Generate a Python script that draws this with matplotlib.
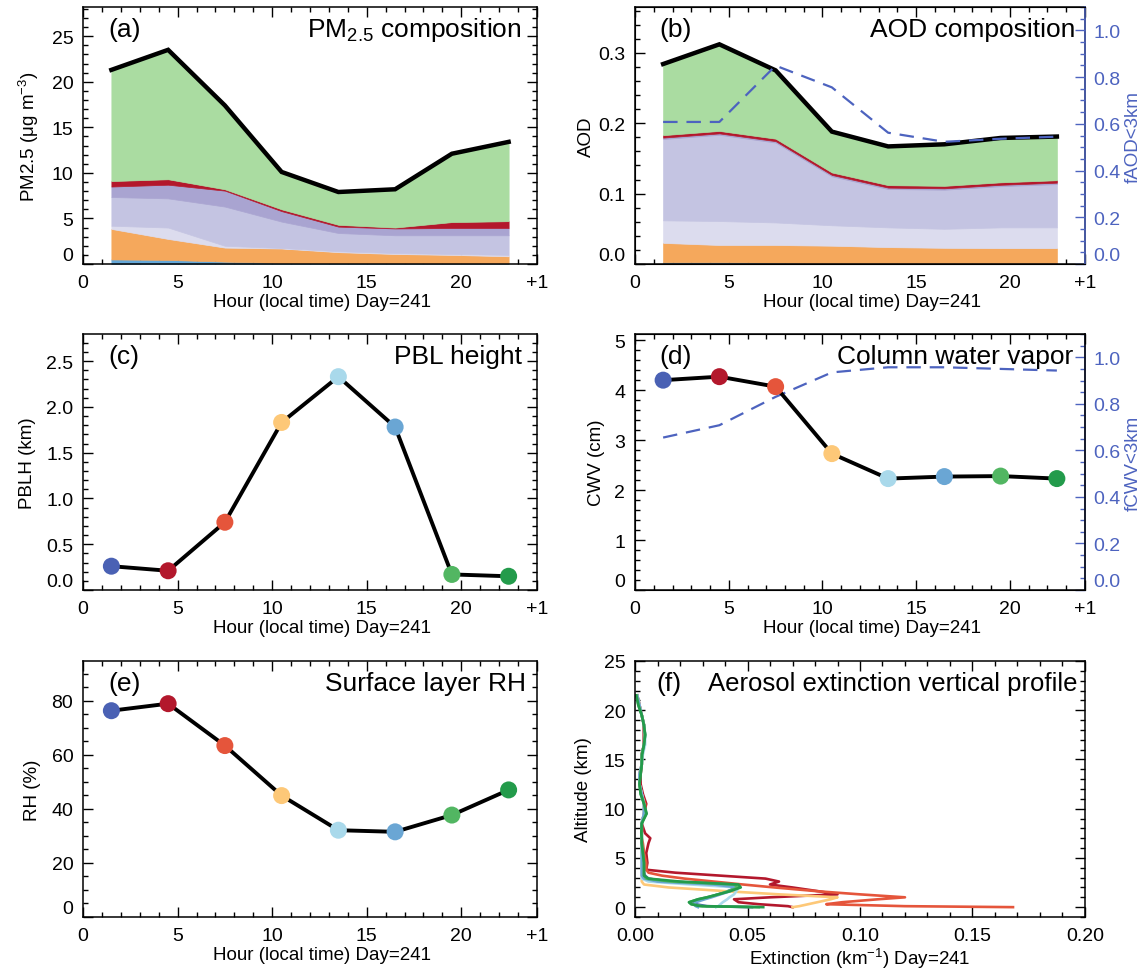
import numpy as np
import matplotlib
matplotlib.use("Agg")
import matplotlib.pyplot as plt
from matplotlib.ticker import MultipleLocator

plt.rcParams['font.family'] = ['Liberation Sans', 'DejaVu Sans']
plt.rcParams['mathtext.default'] = 'regular'

# ---------------------------------------------------------------- data
hours = [1.5, 4.5, 7.5, 10.5, 13.5, 16.5, 19.5, 22.5]
hour_colors = ['#4a61b4', '#b3182c', '#e5553b', '#fdc878',
               '#a9d9eb', '#6aa6d4', '#52b662', '#239b4b']

hour_ticks = [0, 5, 10, 15, 20, 24]
hour_ticklabels = ['0', '5', '10', '15', '20', '+1']

# (a) PM2.5 components (ug m-3), stacked bottom to top
pm_blue = [0.50, 0.45, 0.26, 0.12, 0.10, 0.08, 0.07, 0.07]
pm_orange = [3.35, 2.30, 1.54, 1.58, 1.20, 1.02, 0.93, 0.78]
pm_pale = [0.35, 1.25, 0.20, 0.05, 0.10, 0.10, 0.10, 0.15]
pm_lilac = [3.15, 3.20, 4.30, 2.90, 2.00, 1.95, 2.05, 2.15]
pm_purple = [1.15, 1.50, 1.75, 1.15, 0.70, 0.75, 0.80, 0.80]
pm_red = [0.60, 0.60, 0.15, 0.20, 0.20, 0.10, 0.65, 0.75]
pm_green = [12.2, 14.2, 9.2, 4.1, 3.6, 4.2, 7.5, 8.7]

# (b) AOD components, stacked bottom to top
aod_blue = [0.0025, 0.0025, 0.0020, 0.0015, 0.0015, 0.0015, 0.0015, 0.0015]
aod_orange = [0.0275, 0.0245, 0.0250, 0.0245, 0.0225, 0.0215, 0.0210, 0.0210]
aod_pale = [0.032, 0.034, 0.032, 0.029, 0.028, 0.027, 0.0295, 0.0295]
aod_lilac = [0.1155, 0.1225, 0.1135, 0.0695, 0.0545, 0.0555, 0.0585, 0.0615]
aod_purple = [0.002, 0.002, 0.002, 0.002, 0.002, 0.002, 0.002, 0.002]
aod_red = [0.0035, 0.0035, 0.0035, 0.0035, 0.0035, 0.0035, 0.0035, 0.0035]
aod_green = [0.101, 0.123, 0.097, 0.058, 0.055, 0.059, 0.063, 0.062]
fAOD_3km = [0.608, 0.608, 0.849, 0.756, 0.562, 0.523, 0.536, 0.545]

layer_colors = ['#64a7d8', '#f5a85c', '#dcdcee', '#c4c4e2',
                '#a9a4d1', '#b3182c', '#aadca1']

# (c) boundary layer height (km)
pblh_km = [0.26, 0.21, 0.74, 1.83, 2.33, 1.78, 0.17, 0.15]

# (d) column water vapor (cm) and fraction below 3 km
cwv_cm = [4.20, 4.27, 4.07, 2.73, 2.23, 2.27, 2.28, 2.23]
fCWV_3km = [0.655, 0.708, 0.830, 0.935, 0.957, 0.957, 0.950, 0.943]

# (e) surface layer relative humidity (%)
rh_pct = [76.3, 78.9, 63.4, 44.9, 32.1, 31.5, 37.7, 47.0]

# (f) aerosol extinction profiles (km-1), one per hour
z_km = [0.0, 0.1, 0.3, 0.5, 0.8, 1.0, 1.3, 1.6, 2.0, 2.3, 2.6, 2.9, 3.2, 3.5, 3.8,
        4.5, 5.5, 6.5, 7.0, 7.5, 8.5, 9.5, 10.5, 11.5, 12.5, 13.5, 14.5, 15.5,
        16.5, 17.5, 18.5, 19.5, 20.5, 21.5]
ext_0130 = [0.052, 0.032, 0.027, 0.026, 0.029, 0.033, 0.037, 0.041, 0.045, 0.044,
            0.015, 0.006, 0.0045, 0.004, 0.004,
            0.004, 0.004, 0.003, 0.003, 0.003, 0.003, 0.004, 0.004, 0.003, 0.002,
            0.002, 0.003, 0.003, 0.004, 0.004, 0.004, 0.003, 0.002, 0.001]
ext_0430 = [0.070, 0.068, 0.055, 0.046, 0.044, 0.060, 0.090, 0.082, 0.070, 0.060,
            0.064, 0.058, 0.038, 0.018, 0.005,
            0.0055, 0.005, 0.006, 0.0068, 0.0045, 0.003, 0.004, 0.005, 0.0035, 0.0025,
            0.0025, 0.003, 0.003, 0.004, 0.004, 0.004, 0.003, 0.002, 0.001]
ext_0730 = [0.168, 0.120, 0.085, 0.092, 0.108, 0.120, 0.100, 0.082, 0.062, 0.048,
            0.035, 0.022, 0.012, 0.006, 0.005,
            0.005, 0.004, 0.0035, 0.003, 0.003, 0.003, 0.0045, 0.0045, 0.003, 0.002,
            0.002, 0.003, 0.003, 0.004, 0.004, 0.004, 0.003, 0.002, 0.001]
ext_1030 = [0.070, 0.073, 0.077, 0.081, 0.087, 0.090, 0.064, 0.042, 0.015, 0.004,
            0.003, 0.003, 0.003, 0.003, 0.003,
            0.003, 0.003, 0.003, 0.003, 0.003, 0.003, 0.004, 0.004, 0.003, 0.002,
            0.002, 0.003, 0.003, 0.004, 0.0045, 0.004, 0.003, 0.002, 0.001]
ext_1330 = [0.036, 0.037, 0.038, 0.039, 0.041, 0.042, 0.044, 0.045, 0.046, 0.025,
            0.006, 0.003, 0.003, 0.003, 0.003,
            0.003, 0.003, 0.003, 0.003, 0.003, 0.003, 0.004, 0.004, 0.003, 0.002,
            0.002, 0.003, 0.0035, 0.0045, 0.0045, 0.004, 0.003, 0.002, 0.001]
ext_1630 = [0.028, 0.027, 0.026, 0.027, 0.031, 0.034, 0.038, 0.042, 0.046, 0.035,
            0.010, 0.004, 0.003, 0.003, 0.003,
            0.003, 0.003, 0.003, 0.003, 0.003, 0.003, 0.004, 0.004, 0.003, 0.002,
            0.002, 0.003, 0.003, 0.004, 0.0045, 0.004, 0.003, 0.002, 0.001]
ext_1930 = [0.055, 0.030, 0.025, 0.024, 0.028, 0.032, 0.037, 0.041, 0.046, 0.044,
            0.016, 0.005, 0.004, 0.004, 0.004,
            0.004, 0.0035, 0.003, 0.003, 0.003, 0.003, 0.005, 0.004, 0.0025, 0.002,
            0.0025, 0.003, 0.003, 0.004, 0.0045, 0.004, 0.003, 0.0015, 0.0007]
ext_2230 = [0.057, 0.029, 0.025, 0.024, 0.028, 0.032, 0.037, 0.042, 0.047, 0.046,
            0.020, 0.006, 0.004, 0.004, 0.004,
            0.004, 0.0035, 0.003, 0.003, 0.0028, 0.003, 0.0052, 0.004, 0.0025, 0.002,
            0.0025, 0.003, 0.0032, 0.004, 0.0045, 0.0039, 0.003, 0.0015, 0.0005]

right_blue = '#4d63bf'

# ---------------------------------------------------------------- layout
FIG_W, FIG_H = 1145, 970
fig = plt.figure(figsize=(FIG_W / 100, FIG_H / 100), dpi=100)


def add_panel(left, top, right, bottom):
    return fig.add_axes([left / FIG_W, 1 - bottom / FIG_H,
                         (right - left) / FIG_W, (bottom - top) / FIG_H])


def frame(ax, right=True):
    ax.tick_params(which='both', direction='in', top=True, right=right,
                   labelsize=14, pad=7, width=1.0)
    ax.tick_params(which='major', length=7)
    ax.tick_params(which='minor', length=3.5)
    for s in ax.spines.values():
        s.set_linewidth(1.1)


def bottom_label(ax, text, x=0.527):
    ax.set_xlabel(text, fontsize=13.5)
    ax.xaxis.set_label_coords(x, -0.112, transform=ax.transAxes)
    ax.xaxis.label.set_verticalalignment('top')


def hour_axis(ax):
    ax.set_xlim(0, 24)
    ax.set_xticks(hour_ticks)
    ax.set_xticklabels(hour_ticklabels)
    ax.xaxis.set_minor_locator(MultipleLocator(1))
    bottom_label(ax, 'Hour (local time) Day=241')


def left_label(ax, text, x):
    ax.set_ylabel(text, fontsize=13.5)
    ax.yaxis.set_label_coords(x, 0.5)


def titles(ax, tag, title, tag_x=0.055, title_x=0.972, size=19):
    ax.text(tag_x, 0.915, tag, transform=ax.transAxes, fontsize=19,
            ha='left', va='center')
    ax.text(title_x, 0.915, title, transform=ax.transAxes, fontsize=size,
            ha='right', va='center')


def lift_zero_label(axis, second=False):
    # bottom tick label sits just above the frame
    tick = axis.get_major_ticks()[0]
    (tick.label2 if second else tick.label1).set_verticalalignment('bottom')


def right_axis(ax, values, label):
    ax2 = ax.twinx()
    ax2.plot(hours, values, color=right_blue, lw=1.6, dashes=(6.5, 4), zorder=5)
    ax2.set_ylim(0, 1.1)
    ax2.set_yticks([0.0, 0.2, 0.4, 0.6, 0.8, 1.0])
    ax2.set_yticklabels(['0.0', '0.2', '0.4', '0.6', '0.8', '1.0'])
    ax2.yaxis.set_minor_locator(MultipleLocator(0.05))
    ax2.tick_params(which='both', direction='in', labelsize=14, pad=6, width=1.0,
                    colors=right_blue)
    ax2.tick_params(which='major', length=7)
    ax2.tick_params(which='minor', length=3.5)
    ax2.spines['right'].set_color(right_blue)
    ax2.spines['right'].set_linewidth(1.1)
    ax2.set_ylabel(label, fontsize=13.5, color=right_blue, labelpad=3)
    lift_zero_label(ax2.yaxis, second=True)
    return ax2


def stacked(ax, layers, lw_total):
    base = np.zeros(len(hours))
    for vals, col in zip(layers, layer_colors):
        top = base + np.asarray(vals)
        ax.fill_between(hours, base, top, facecolor=col, edgecolor=col,
                        linewidth=0.5, zorder=2)
        base = top
    ax.plot(hours, base, color='black', lw=lw_total, zorder=4,
            solid_joinstyle='miter')


def dotted_series(ax, vals):
    ax.plot(hours, vals, color='black', lw=2.8, zorder=3)
    ax.scatter(hours, vals, s=150, c=hour_colors, edgecolors='none', zorder=4)


# (a) PM2.5 composition
ax_a = add_panel(83, 8, 537, 265)
frame(ax_a)
stacked(ax_a, [pm_blue, pm_orange, pm_pale, pm_lilac, pm_purple, pm_red, pm_green], 3.2)
hour_axis(ax_a)
ax_a.set_ylim(0, 28.2)
ax_a.set_yticks([0, 5, 10, 15, 20, 25])
ax_a.yaxis.set_minor_locator(MultipleLocator(1))
left_label(ax_a, 'PM2.5 (μg m$^{-3}$)', -0.093)
titles(ax_a, '(a)', 'PM$_{2.5}$ composition', title_x=0.965)
lift_zero_label(ax_a.yaxis)

# (b) AOD composition with fraction below 3 km
ax_b = add_panel(635, 8, 1085, 265)
frame(ax_b, right=False)
stacked(ax_b, [aod_blue, aod_orange, aod_pale, aod_lilac, aod_purple, aod_red, aod_green], 3.2)
hour_axis(ax_b)
ax_b.set_ylim(0, 0.365)
ax_b.set_yticks([0.0, 0.1, 0.2, 0.3])
ax_b.set_yticklabels(['0.0', '0.1', '0.2', '0.3'])
ax_b.yaxis.set_minor_locator(MultipleLocator(0.02))
left_label(ax_b, 'AOD', -0.088)
titles(ax_b, '(b)', 'AOD composition', title_x=0.978)
lift_zero_label(ax_b.yaxis)
right_axis(ax_b, fAOD_3km, 'fAOD<3km')

# (c) PBL height
ax_c = add_panel(83, 335, 537, 591)
frame(ax_c)
dotted_series(ax_c, pblh_km)
hour_axis(ax_c)
ax_c.set_ylim(0, 1.2 * max(pblh_km))
ax_c.set_yticks([0.0, 0.5, 1.0, 1.5, 2.0, 2.5])
ax_c.set_yticklabels(['0.0', '0.5', '1.0', '1.5', '2.0', '2.5'])
ax_c.yaxis.set_minor_locator(MultipleLocator(0.1))
left_label(ax_c, 'PBLH (km)', -0.104)
titles(ax_c, '(c)', 'PBL height', title_x=0.967)
lift_zero_label(ax_c.yaxis)

# (d) column water vapor with fraction below 3 km
ax_d = add_panel(635, 335, 1085, 591)
frame(ax_d, right=False)
dotted_series(ax_d, cwv_cm)
hour_axis(ax_d)
ax_d.set_ylim(0, 1.2 * max(cwv_cm))
ax_d.set_yticks([0, 1, 2, 3, 4, 5])
ax_d.yaxis.set_minor_locator(MultipleLocator(0.2))
left_label(ax_d, 'CWV (cm)', -0.066)
titles(ax_d, '(d)', 'Column water vapor', title_x=0.973)
lift_zero_label(ax_d.yaxis)
ax_d2 = right_axis(ax_d, fCWV_3km, 'fCWV<3km')
ax_d.set_zorder(ax_d2.get_zorder() + 1)
ax_d.patch.set_visible(False)

# (e) surface layer RH
ax_e = add_panel(83, 662, 537, 918)
frame(ax_e)
dotted_series(ax_e, rh_pct)
hour_axis(ax_e)
ax_e.set_ylim(0, 1.2 * max(rh_pct))
ax_e.set_yticks([0, 20, 40, 60, 80])
ax_e.yaxis.set_minor_locator(MultipleLocator(5))
left_label(ax_e, 'RH (%)', -0.093)
titles(ax_e, '(e)', 'Surface layer RH', title_x=0.975)
lift_zero_label(ax_e.yaxis)

# (f) aerosol extinction profiles
ax_f = add_panel(635, 662, 1085, 918)
frame(ax_f)
profiles = [ext_0130, ext_0430, ext_0730, ext_1030,
            ext_1330, ext_1630, ext_1930, ext_2230]
for prof, col in zip(profiles, hour_colors):
    ax_f.plot(prof, z_km, color=col, lw=1.9)
ax_f.set_xlim(0, 0.2)
ax_f.set_xticks([0.0, 0.05, 0.10, 0.15, 0.20])
ax_f.set_xticklabels(['0.00', '0.05', '0.10', '0.15', '0.20'])
ax_f.xaxis.set_minor_locator(MultipleLocator(0.01))
ax_f.set_ylim(-1, 25)
ax_f.set_yticks([0, 5, 10, 15, 20, 25])
ax_f.yaxis.set_minor_locator(MultipleLocator(1))
bottom_label(ax_f, 'Extinction (km$^{-1}$) Day=241', x=0.5)
left_label(ax_f, 'Altitude (km)', -0.096)
titles(ax_f, '(f)', 'Aerosol extinction vertical profile',
       tag_x=0.047, title_x=0.984, size=18.5)

fig.savefig('out.png', dpi=100)
